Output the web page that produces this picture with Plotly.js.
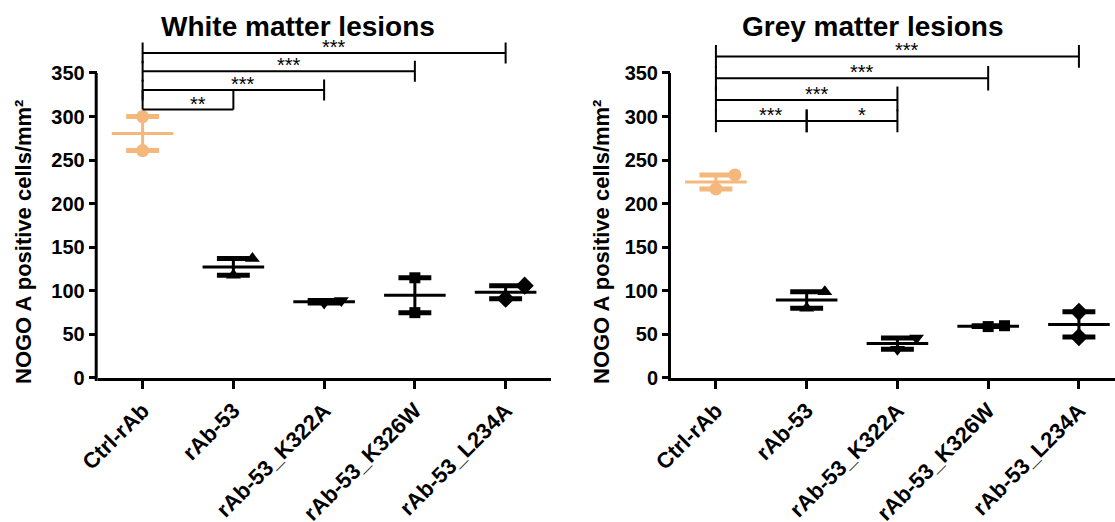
<!DOCTYPE html>
<html>
<head>
<meta charset="utf-8">
<script src="https://cdn.plot.ly/plotly-3.0.1.min.js"></script>
<style>html,body{margin:0;padding:0;background:#fff;}#chart{width:1115px;height:522px;}</style>
</head>
<body>
<div id="chart"></div>
<script>
// ---------------- data ----------------
const categories = ['Ctrl-rAb', 'rAb-53', 'rAb-53_K322A', 'rAb-53_K326W', 'rAb-53_L234A'];
const whiteValues = [[300, 261], [137, 118], [89, 86], [115, 75], [106, 91]];
const greyValues  = [[233, 217], [99, 80], [46, 33], [59, 60], [76, 47]];
const whiteSig = [[0, 4, '***'], [0, 3, '***'], [0, 2, '***'], [0, 1, '**']];
const greySig  = [[0, 4, '***'], [0, 3, '***'], [0, 2, '***'], [0, 1, '***'], [1, 2, '*']];
const yTicks = [0, 50, 100, 150, 200, 250, 300, 350];
const panelTitles = ['White matter lesions', 'Grey matter lesions'];
const yTitle = 'NOGO A positive cells/mm²';

// ---------------- styling / layout ----------------
const W = 1115, H = 522;
const orange = '#F4B77C';
const colors = [orange, '#000', '#000', '#000', '#000'];
const symbols = ['circle', 'triangle-up', 'triangle-down', 'square', 'diamond'];
const markerSizes = [13, 13, 13, 11, 14];
const whiteJitter = [[0, 0], [0.21, 0], [0.19, 0], [0, 0], [0.21, 0]];
const greyJitter  = [[0.21, 0], [0.2, 0], [0.21, 0], [0, 0.18], [0, 0]];
const whiteLevels = [373, 352, 330.5, 308];
const whiteTickExt = [[12, 12], [12, 12], [12, 12], [22.5, 0]];
const greyLevels = [369, 344, 319, 295, 295];
const greyTickExt = [[13, 13], [14, 14], [15.6, 13], [13, 13], [13, 13]];
const FONT = 'Liberation Sans, Arial, sans-serif';
const yMax = 395;
const yDom = [(H - 378) / H, (H - (378 - yMax * (305 / 350))) / H];
const xDom1 = [97.7 / W, 551 / W];
const xDom2 = [671 / W, 1];
const pxPerCat = (551 - 97.7) / 4.995;
const xRange1 = [-0.495, 4.5];
const xRange2 = [-0.495, -0.495 + (W - 671) / pxPerCat];

function mean(a) { return a.reduce((s, v) => s + v, 0) / a.length; }
function sem(a) {
  const m = mean(a);
  const sd = Math.sqrt(a.reduce((s, v) => s + (v - m) * (v - m), 0) / (a.length - 1));
  return sd / Math.sqrt(a.length);
}

const traces = [];
const shapes = [];
const annotations = [];

function buildPanel(values, jitter, sig, levels, tickExt, xa, ya) {
  values.forEach((vals, i) => {
    const m = mean(vals), s = sem(vals);
    const c = colors[i];
    traces.push({
      type: 'scatter', mode: 'markers', xaxis: xa, yaxis: ya, hoverinfo: 'skip',
      x: vals.map((v, k) => i + jitter[i][k]), y: vals,
      marker: { symbol: symbols[i], size: markerSizes[i], color: c, line: { width: 0 } },
      showlegend: false, cliponaxis: false
    });
    traces.push({
      type: 'scatter', mode: 'markers', xaxis: xa, yaxis: ya, hoverinfo: 'skip',
      x: [i], y: [m],
      marker: { symbol: 'line-ew', size: 44, color: c, line: { color: c, width: 3 } },
      error_y: { type: 'data', array: [s], symmetric: true, width: 0, thickness: 3, color: c },
      showlegend: false, cliponaxis: false
    });
    traces.push({
      type: 'scatter', mode: 'markers', xaxis: xa, yaxis: ya, hoverinfo: 'skip',
      x: [i, i], y: [m + s, m - s],
      marker: { symbol: 'line-ew', size: 23.5, color: c, line: { color: c, width: 5 } },
      showlegend: false, cliponaxis: false
    });
  });
  sig.forEach((cmp, j) => {
    const [a, b, lab] = cmp;
    const h = levels[j];
    const [up, dn] = tickExt[j];
    const line = { color: '#000', width: 2 };
    shapes.push({ type: 'line', xref: xa, yref: ya, x0: a, x1: b, y0: h, y1: h, line });
    shapes.push({ type: 'line', xref: xa, yref: ya, x0: a, x1: a, y0: h - dn, y1: h + up, line });
    shapes.push({ type: 'line', xref: xa, yref: ya, x0: b, x1: b, y0: h - dn, y1: h + up, line });
    annotations.push({
      xref: xa, yref: ya, x: (a + b) / 2, y: h, text: lab, showarrow: false,
      yanchor: 'bottom', xanchor: 'center', xshift: 10, yshift: -7,
      font: { family: FONT, size: 20, color: '#000' }
    });
  });
}

buildPanel(whiteValues, whiteJitter, whiteSig, whiteLevels, whiteTickExt, 'x', 'y');
buildPanel(greyValues, greyJitter, greySig, greyLevels, greyTickExt, 'x2', 'y2');

const y350 = yDom[0] + (350 / yMax) * (yDom[1] - yDom[0]);
[xDom1[0], xDom2[0]].forEach(xd => {
  shapes.push({
    type: 'line', xref: 'paper', yref: 'paper', x0: xd - 1.5 / W, x1: xd - 1.5 / W,
    y0: yDom[0] - 3 / H, y1: y350, line: { color: '#000', width: 3 }
  });
});

[[297.5, panelTitles[0]], [872.5, panelTitles[1]]].forEach(([px, t]) => {
  annotations.push({
    xref: 'paper', yref: 'paper', x: px / W, y: 1 - 27 / H, text: t, showarrow: false,
    xanchor: 'center', yanchor: 'middle',
    font: { family: FONT, size: 28, color: '#000', weight: 'bold' }
  });
});
[23, 601].forEach(px => {
  annotations.push({
    xref: 'paper', yref: 'paper', x: px / W, y: 1 - 242 / H, text: yTitle, showarrow: false,
    xanchor: 'center', yanchor: 'middle', textangle: -90,
    font: { family: FONT, size: 22, color: '#000', weight: 'bold' }
  });
});

function xAxis(dom, rng) {
  return {
    domain: dom, range: rng, tickmode: 'array', tickvals: [0, 1, 2, 3, 4], ticktext: categories,
    tickangle: -45, ticks: 'outside', ticklen: 8, tickwidth: 3, tickcolor: '#000',
    showline: true, linewidth: 3, linecolor: '#000', showgrid: false, zeroline: false,
    tickfont: { family: FONT, size: 22, color: '#000', weight: 'bold' }, fixedrange: true
  };
}
function yAxis(dom, anchor) {
  return {
    domain: dom, range: [0, yMax], anchor, tickmode: 'array', tickvals: yTicks,
    ticks: 'outside', ticklen: 8, tickwidth: 3, tickcolor: '#000',
    showline: false, showgrid: false, zeroline: false,
    tickfont: { family: FONT, size: 20, color: '#000', weight: 'bold' }, fixedrange: true
  };
}

const layout = {
  width: W, height: H, margin: { l: 0, r: 0, t: 0, b: 0 },
  paper_bgcolor: '#fff', plot_bgcolor: '#fff', showlegend: false,
  xaxis: Object.assign(xAxis(xDom1, xRange1), { anchor: 'y' }),
  yaxis: yAxis(yDom, 'x'),
  xaxis2: Object.assign(xAxis(xDom2, xRange2), { anchor: 'y2' }),
  yaxis2: yAxis(yDom, 'x2'),
  shapes, annotations
};

Plotly.newPlot('chart', traces, layout, { displayModeBar: false, staticPlot: true });
</script>
</body>
</html>
